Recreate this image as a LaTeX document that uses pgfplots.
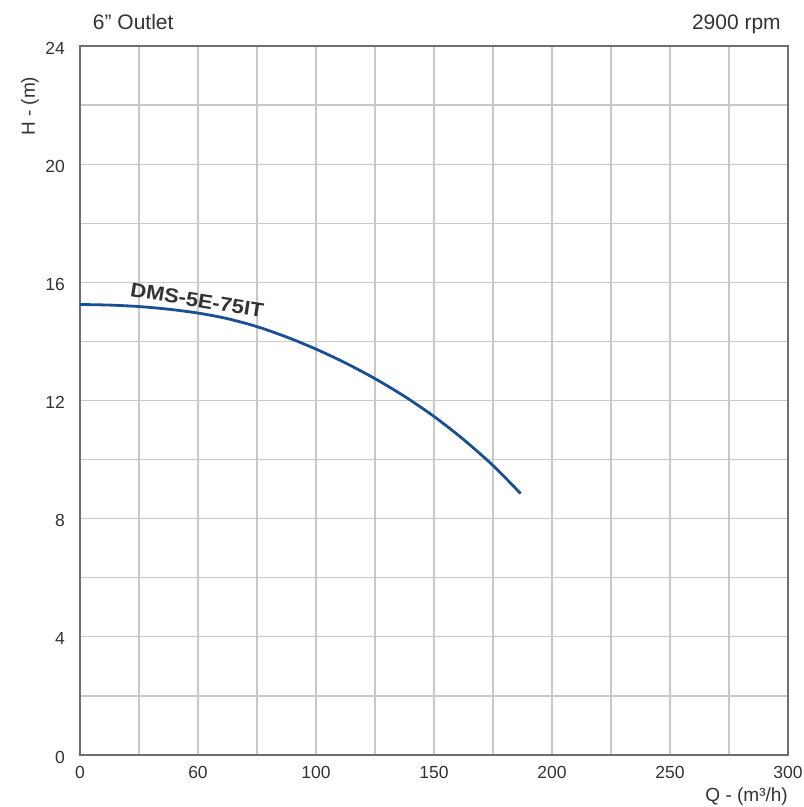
\documentclass[border=0pt]{standalone}
\usepackage{fontspec}
\setmainfont{Liberation Sans}
\usepackage{graphicx}
\usepackage{pgfplots}
\pgfplotsset{compat=1.18}
\definecolor{curvec}{HTML}{1B4F93}
\definecolor{gridc}{HTML}{C8C8C8}
\definecolor{axc}{HTML}{6E6E6E}
\definecolor{txt}{HTML}{333333}
\begin{document}
\begin{tikzpicture}[x=1pt,y=1pt]
\begin{axis}[
  name=ax, at={(0pt,0pt)}, anchor=south west,
  width=708pt, height=709pt, scale only axis,
  xmin=0, xmax=300, ymin=0, ymax=24,
  xtick={0,50,100,150,200,250,300},
  xticklabels={0,60,100,150,200,250,300},
  minor xtick={25,75,125,175,225,275},
  ytick={0,4,8,12,16,20,24},
  minor ytick={2,6,10,14,18,22},
  grid=both,
  major grid style={draw=gridc, line width=1.2pt},
  minor grid style={draw=gridc, line width=1.2pt},
  axis line style={draw=axc, line width=1.3pt},
  major tick length=0pt, minor tick length=0pt,
  tick style={draw=none},
  /pgf/number format/assume math mode=true,
  ticklabel style={font=\fontsize{17.5}{20}\selectfont, text=txt},
  xticklabel style={anchor=base, inner sep=0pt, yshift=-23pt},
  yticklabel style={anchor=east, inner sep=0pt, xshift=-15pt, yshift=-2pt},
  clip=false,
]
\addplot[curvec, line width=2.8pt, smooth] coordinates {
  (0,15.25) (12.5,15.23) (25,15.18) (37.5,15.09) (50,14.96) (62.5,14.77)
  (75,14.50) (87.5,14.15) (100,13.74) (112.5,13.27) (125,12.74)
  (137.5,12.14) (150,11.46) (162.5,10.68) (175,9.80) (186.7,8.85)
};
\node[rotate=-9, text=txt, inner sep=0pt, anchor=center] at (axis cs:49.6,15.4)
  {\scalebox{1.1}[1]{\bfseries\fontsize{20}{22}\selectfont DMS-5E-75IT}};
\node[anchor=base west, text=txt, inner sep=0pt, font=\fontsize{21}{24}\selectfont]
  at (axis description cs:0.018,1.0226) {6” Outlet};
\node[anchor=base east, text=txt, inner sep=0pt, font=\fontsize{21}{24}\selectfont]
  at (axis description cs:0.990,1.0226) {2900 rpm};
\node[anchor=base east, text=txt, inner sep=0pt, font=\fontsize{19}{22}\selectfont]
  at (axis description cs:1,-0.0649) {Q - (m³/h)};
\node[rotate=90, anchor=center, text=txt, inner sep=0pt, font=\fontsize{19}{22}\selectfont]
  at (axis description cs:-0.0706,0.915) {H - (m)};
\end{axis}
\pgfresetboundingbox
\path (-80pt,-52pt) rectangle (724pt,755pt);
\end{tikzpicture}
\end{document}
